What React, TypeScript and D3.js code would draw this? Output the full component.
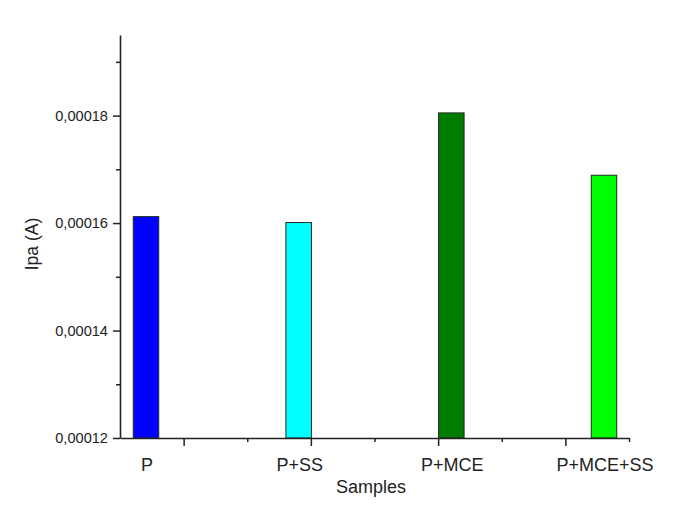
import React, { useEffect, useRef } from "react";
import * as d3 from "d3";

const categories = ["P", "P+SS", "P+MCE", "P+MCE+SS"];
const values = [0.0001612, 0.0001601, 0.0001805, 0.0001689];
const colors = ["#0000ff", "#00ffff", "#007c00", "#00ff00"];
const yMajorTicks = [0.00012, 0.00014, 0.00016, 0.00018];
const yMinorTicks = [0.00013, 0.00015, 0.00017, 0.00019];
const xAxisTicks = [1, 2, 3, 4, 5, 6, 7, 8];
const yTitle = "Ipa (A)";
const xTitle = "Samples";

const W = 686;
const H = 520;
const FONT = "Liberation Sans, Arial, sans-serif";

export default function App() {
  const ref = useRef<SVGSVGElement>(null);

  useEffect(() => {
    const svg = d3.select(ref.current);
    svg.selectAll("*").remove();

    const left = 120;
    const right = 629;
    const top = 35;
    const bottom = 438;

    const y = d3.scaleLinear().domain([0.00012, 0.000195]).range([bottom, top]);
    const xAxisScale = d3.scaleLinear().domain([0, 8]).range([left, right]);
    const xBars = d3.scalePoint<string>().domain(categories).range([146, 604]);
    const barW = 25.5;
    const fmt = (v: number) => d3.format(".5f")(v).replace(".", ",");

    svg.append("rect").attr("width", W).attr("height", H).attr("fill", "#fff");

    // bars
    svg
      .append("g")
      .selectAll("rect")
      .data(categories)
      .join("rect")
      .attr("x", (d) => (xBars(d) as number) - barW / 2)
      .attr("width", barW)
      .attr("y", (d, i) => y(values[i]))
      .attr("height", (d, i) => bottom - y(values[i]))
      .attr("fill", (d, i) => colors[i])
      .attr("stroke", "#1f2a1f")
      .attr("stroke-width", 1);

    // y axis major
    const yAxisMajor = d3
      .axisLeft(y)
      .tickValues(yMajorTicks)
      .tickSize(7)
      .tickSizeOuter(0)
      .tickPadding(5)
      .tickFormat((v) => fmt(v as number));
    const gy = svg.append("g").attr("transform", `translate(${left},0)`).call(yAxisMajor);
    gy.selectAll("text")
      .attr("font-family", FONT)
      .attr("font-size", 14.6)
      .attr("fill", "#222");
    gy.selectAll("line").attr("stroke", "#222").attr("stroke-width", 1.5);
    gy.select(".domain").attr("stroke", "#222").attr("stroke-width", 1.6);

    // y axis minor
    const yAxisMinor = d3
      .axisLeft(y)
      .tickValues(yMinorTicks)
      .tickSize(4)
      .tickSizeOuter(0)
      .tickFormat(() => "");
    const gym = svg.append("g").attr("transform", `translate(${left},0)`).call(yAxisMinor);
    gym.select(".domain").remove();
    gym.selectAll("line").attr("stroke", "#222").attr("stroke-width", 1.5);

    // x axis
    const xAxis = d3
      .axisBottom(xAxisScale)
      .tickValues(xAxisTicks)
      .tickSizeOuter(0)
      .tickFormat(() => "");
    const gx = svg.append("g").attr("transform", `translate(0,${bottom})`).call(xAxis);
    gx.select(".domain").attr("stroke", "#222").attr("stroke-width", 1.6);
    gx.selectAll(".tick line")
      .attr("y2", (d) => ((d as number) % 2 === 1 ? 8 : 4))
      .attr("stroke", "#222")
      .attr("stroke-width", 1.5);

    // category labels
    svg
      .append("g")
      .selectAll("text")
      .data(categories)
      .join("text")
      .attr("x", (d) => (xBars(d) as number) + 1)
      .attr("y", 471)
      .attr("text-anchor", "middle")
      .attr("font-family", FONT)
      .attr("font-size", 18)
      .attr("fill", "#222")
      .text((d) => d);

    // titles
    svg
      .append("text")
      .attr("x", 371)
      .attr("y", 493)
      .attr("text-anchor", "middle")
      .attr("font-family", FONT)
      .attr("font-size", 18)
      .attr("fill", "#222")
      .text(xTitle);

    svg
      .append("text")
      .attr("transform", `translate(38,244) rotate(-90)`)
      .attr("text-anchor", "middle")
      .attr("font-family", FONT)
      .attr("font-size", 17.5)
      .attr("fill", "#222")
      .text(yTitle);
  }, []);

  return (
    <svg
      ref={ref}
      width={W}
      height={H}
      style={{ position: "absolute", left: 0, top: 0, display: "block" }}
    />
  );
}
